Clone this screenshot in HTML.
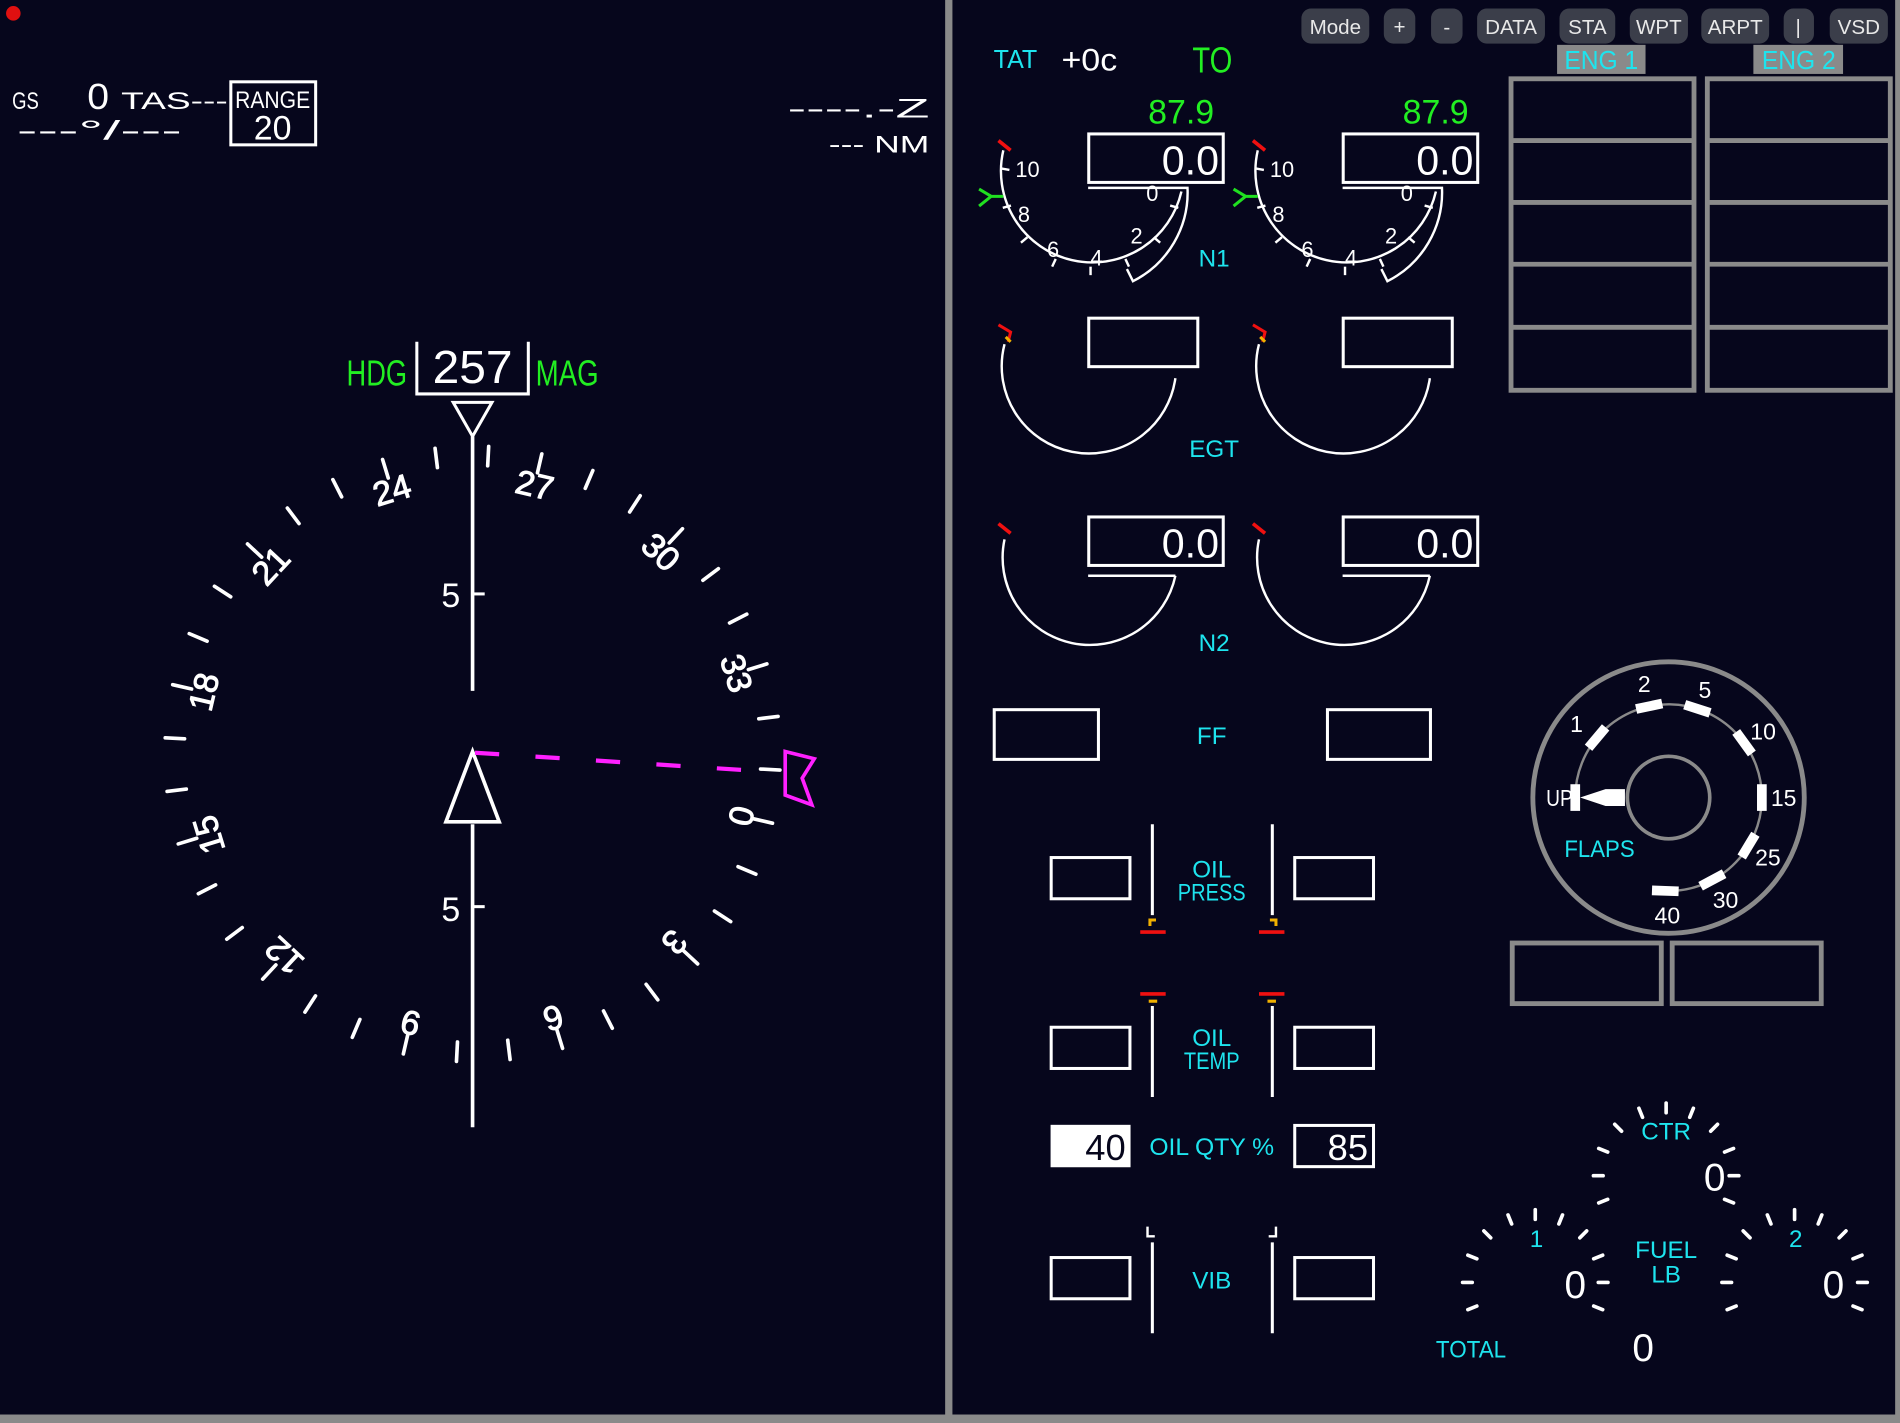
<!DOCTYPE html>
<html><head><meta charset="utf-8"><style>
html,body{margin:0;padding:0;background:#06061c;width:1900px;height:1423px;overflow:hidden}
svg{display:block}
text{font-family:"Liberation Sans",sans-serif}
.w{fill:#fff}.c{fill:#1ee4ee}.g{fill:#22ee22}
</style></head><body>
<svg width="1900" height="1423" viewBox="0 0 1568 1174" preserveAspectRatio="none">
<rect width="1568" height="1174" fill="#06061c"/>
<rect x="780" y="0" width="6" height="1168" fill="#8a8a8a"/>
<rect x="0" y="1167" width="1568" height="7" fill="#8a8a8a"/>
<rect x="1564" y="0" width="4" height="1174" fill="#8a8a8a"/>
<circle cx="11" cy="11" r="6" fill="#e01010"/>
<!-- top left -->
<text x="10" y="90" class="w" font-size="20" textLength="22" lengthAdjust="spacingAndGlyphs">GS</text>
<text x="72" y="90" class="w" font-size="30" textLength="18" lengthAdjust="spacingAndGlyphs">0</text>
<text x="100" y="90" class="w" font-size="20" textLength="88" lengthAdjust="spacingAndGlyphs">TAS---</text>
<text x="14" y="115" class="w" font-size="22" textLength="136" lengthAdjust="spacingAndGlyphs">---°/---</text>
<rect x="190.5" y="67.5" width="70" height="52" fill="none" stroke="#fff" stroke-width="2.5"/>
<text x="194" y="89" class="w" font-size="20" textLength="62" lengthAdjust="spacingAndGlyphs">RANGE</text>
<text x="225" y="115" class="w" font-size="28" text-anchor="middle">20</text>
<text x="650" y="97" class="w" font-size="22" textLength="117" lengthAdjust="spacingAndGlyphs">----.-Z</text>
<text x="684" y="126" class="w" font-size="20" textLength="83" lengthAdjust="spacingAndGlyphs">--- NM</text>
<!-- heading -->
<text x="286" y="318" class="g" font-size="30" textLength="50" lengthAdjust="spacingAndGlyphs">HDG</text>
<text x="442" y="318" class="g" font-size="30" textLength="52" lengthAdjust="spacingAndGlyphs">MAG</text>
<path d="M344 282 V325 H436 V282" fill="none" stroke="#fff" stroke-width="2.5"/>
<text x="357" y="316" class="w" font-size="38" textLength="66" lengthAdjust="spacingAndGlyphs">257</text>
<path d="M374 332 H406 L390 360 Z" fill="none" stroke="#fff" stroke-width="2.5"/>
<line x1="390" y1="360" x2="390" y2="570" stroke="#fff" stroke-width="3"/>
<line x1="390" y1="680" x2="390" y2="930" stroke="#fff" stroke-width="3"/>
<line x1="390" y1="490" x2="400" y2="490" stroke="#fff" stroke-width="2.5"/>
<line x1="390" y1="748" x2="400" y2="748" stroke="#fff" stroke-width="2.5"/>
<text x="372" y="501" class="w" font-size="28" text-anchor="middle">5</text>
<text x="372" y="760" class="w" font-size="28" text-anchor="middle">5</text>
<path d="M390 620 L368 678 H412 Z" fill="none" stroke="#fff" stroke-width="3"/>
<line x1="392" y1="621" x2="640" y2="637" stroke="#ff20ff" stroke-width="3.5" stroke-dasharray="20,30"/>
<path d="M648 620 L672 626 L662 642 L670 664 L648 656 Z" fill="none" stroke="#ff20ff" stroke-width="3"/>
<!-- compass rose -->
<g transform="translate(390,622) rotate(103)" stroke="#fff" stroke-width="3" stroke-linecap="round">
<g id="t"><line x1="0" y1="-254" x2="0" y2="-238"/></g>
<use href="#t" transform="rotate(10)"/><use href="#t" transform="rotate(20)"/><use href="#t" transform="rotate(30)"/><use href="#t" transform="rotate(40)"/><use href="#t" transform="rotate(50)"/><use href="#t" transform="rotate(60)"/><use href="#t" transform="rotate(70)"/><use href="#t" transform="rotate(80)"/><use href="#t" transform="rotate(90)"/><use href="#t" transform="rotate(100)"/><use href="#t" transform="rotate(110)"/><use href="#t" transform="rotate(120)"/><use href="#t" transform="rotate(130)"/><use href="#t" transform="rotate(140)"/><use href="#t" transform="rotate(150)"/><use href="#t" transform="rotate(160)"/><use href="#t" transform="rotate(170)"/><use href="#t" transform="rotate(180)"/><use href="#t" transform="rotate(190)"/><use href="#t" transform="rotate(200)"/><use href="#t" transform="rotate(210)"/><use href="#t" transform="rotate(220)"/><use href="#t" transform="rotate(230)"/><use href="#t" transform="rotate(240)"/><use href="#t" transform="rotate(250)"/><use href="#t" transform="rotate(260)"/><use href="#t" transform="rotate(270)"/><use href="#t" transform="rotate(280)"/><use href="#t" transform="rotate(290)"/><use href="#t" transform="rotate(300)"/><use href="#t" transform="rotate(310)"/><use href="#t" transform="rotate(320)"/><use href="#t" transform="rotate(330)"/><use href="#t" transform="rotate(340)"/><use href="#t" transform="rotate(350)"/>
<g stroke="#fff" stroke-width="0.8" fill="#fff" font-size="28" text-anchor="middle">
<text transform="rotate(0) translate(0,-218)">0</text>
<text transform="rotate(30) translate(0,-218)">3</text>
<text transform="rotate(60) translate(0,-218)">6</text>
<text transform="rotate(90) translate(0,-218)">9</text>
<text transform="rotate(120) translate(0,-218)">12</text>
<text transform="rotate(150) translate(0,-218)">15</text>
<text transform="rotate(180) translate(0,-218)">18</text>
<text transform="rotate(210) translate(0,-218)">21</text>
<text transform="rotate(240) translate(0,-218)">24</text>
<text transform="rotate(270) translate(0,-218)">27</text>
<text transform="rotate(300) translate(0,-218)">30</text>
<text transform="rotate(330) translate(0,-218)">33</text>
</g></g>
<!-- buttons -->
<g fill="#3b3e4a"><rect x="1074" y="7" width="56" height="29" rx="8"/><rect x="1142" y="7" width="26" height="29" rx="8"/><rect x="1181" y="7" width="26" height="29" rx="8"/><rect x="1219" y="7" width="56" height="29" rx="8"/><rect x="1287" y="7" width="46" height="29" rx="8"/><rect x="1345" y="7" width="48" height="29" rx="8"/><rect x="1404" y="7" width="56" height="29" rx="8"/><rect x="1472" y="7" width="25" height="29" rx="8"/><rect x="1510" y="7" width="48" height="29" rx="8"/></g>
<g fill="#e8e8e8" font-size="17" text-anchor="middle"><text x="1102" y="28">Mode</text><text x="1155" y="28">+</text><text x="1194" y="28">-</text><text x="1247" y="28">DATA</text><text x="1310" y="28">STA</text><text x="1369" y="28">WPT</text><text x="1432" y="28">ARPT</text><text x="1484" y="28">|</text><text x="1534" y="28">VSD</text></g>
<text x="820" y="56" class="c" font-size="21" textLength="36" lengthAdjust="spacingAndGlyphs">TAT</text>
<text x="876" y="58" class="w" font-size="26" textLength="46" lengthAdjust="spacingAndGlyphs">+0c</text>
<text x="984" y="60" class="g" font-size="30" textLength="33" lengthAdjust="spacingAndGlyphs">TO</text>
<rect x="1285" y="37" width="73" height="24" fill="#8a8a8a"/><rect x="1447" y="37" width="74" height="24" fill="#8a8a8a"/>
<text x="1291" y="57" class="c" font-size="21" textLength="61" lengthAdjust="spacingAndGlyphs">ENG 1</text>
<text x="1454" y="57" class="c" font-size="21" textLength="61" lengthAdjust="spacingAndGlyphs">ENG 2</text>
<g fill="none" stroke="#8a8a8a" stroke-width="4">
<rect x="1247" y="65" width="151" height="257"/><rect x="1409" y="65" width="151" height="257"/>
<path d="M1247 116H1398M1247 167H1398M1247 218H1398M1247 270H1398M1409 116H1560M1409 167H1560M1409 218H1560M1409 270H1560"/>
</g>
<!-- N1 gauges -->
<g id="n1">
<text x="1002" y="102" class="g" font-size="28" text-anchor="end">87.9</text>
<rect x="898.5" y="110.5" width="111" height="40" fill="none" stroke="#fff" stroke-width="2.5"/>
<text x="1006" y="144" class="w" font-size="34" text-anchor="end">0.0</text>
<path d="M828 124 A75 75 0 1 0 975 158" fill="none" stroke="#fff" stroke-width="2"/>
<path d="M898 155 H980 A82 82 0 0 1 935 232 L930 222" fill="none" stroke="#fff" stroke-width="2"/>
<g transform="translate(900,152)" stroke="#fff" stroke-width="2">
<line x1="-75" y1="0" x2="-68" y2="0" transform="rotate(10)"/><line x1="-75" y1="0" x2="-68" y2="0" transform="rotate(-15)"/><line x1="-75" y1="0" x2="-68" y2="0" transform="rotate(-40)"/><line x1="-75" y1="0" x2="-68" y2="0" transform="rotate(-65)"/><line x1="-75" y1="0" x2="-68" y2="0" transform="rotate(-90)"/><line x1="-75" y1="0" x2="-68" y2="0" transform="rotate(-115)"/><line x1="-75" y1="0" x2="-68" y2="0" transform="rotate(-140)"/><line x1="-75" y1="0" x2="-68" y2="0" transform="rotate(-165)"/>
</g>
<line x1="824" y1="116" x2="834" y2="124" stroke="#f01010" stroke-width="3"/>
<path d="M808 156 L818 162 L808 170 M818 162 H828" fill="none" stroke="#20e020" stroke-width="2.5"/>
<g class="w" font-size="18"><text x="838" y="146">10</text><text x="840" y="183">8</text><text x="864" y="212">6</text><text x="900" y="219">4</text><text x="933" y="201">2</text><text x="946" y="166">0</text></g>
</g>
<use href="#n1" transform="translate(210,0)"/>
<text x="1002" y="220" class="c" font-size="20" text-anchor="middle">N1</text>
<!-- EGT -->
<g id="egt">
<rect x="898.5" y="262.5" width="90" height="40" fill="none" stroke="#fff" stroke-width="2.5"/>
<path d="M829 284 A72 72 0 1 0 970 312" fill="none" stroke="#fff" stroke-width="2"/>
<path d="M824 268 L834 274 L832 282" fill="none" stroke="#f01010" stroke-width="2.5"/>
<line x1="830" y1="278" x2="834" y2="282" stroke="#f0b000" stroke-width="2.5"/>
</g>
<use href="#egt" transform="translate(210,0)"/>
<text x="1002" y="377" class="c" font-size="20" text-anchor="middle">EGT</text>
<!-- N2 -->
<g id="n2">
<rect x="898.5" y="426.5" width="111" height="40" fill="none" stroke="#fff" stroke-width="2.5"/>
<text x="1006" y="460" class="w" font-size="34" text-anchor="end">0.0</text>
<path d="M829 445 A72 72 0 1 0 970 475" fill="none" stroke="#fff" stroke-width="2"/>
<line x1="898" y1="475" x2="970" y2="475" stroke="#fff" stroke-width="2"/>
<line x1="824" y1="432" x2="834" y2="440" stroke="#f01010" stroke-width="3"/>
</g>
<use href="#n2" transform="translate(210,0)"/>
<text x="1002" y="537" class="c" font-size="20" text-anchor="middle">N2</text>
<g fill="none" stroke="#fff" stroke-width="2.5">
<rect x="820.5" y="585.5" width="86" height="41"/><rect x="1095.5" y="585.5" width="85" height="41"/>
<rect x="867.5" y="707.5" width="65" height="34"/><rect x="1068.5" y="707.5" width="65" height="34"/>
<rect x="867.5" y="847.5" width="65" height="34"/><rect x="1068.5" y="847.5" width="65" height="34"/>
<rect x="1068.5" y="928.5" width="65" height="34"/>
<rect x="867.5" y="1037.5" width="65" height="34"/><rect x="1068.5" y="1037.5" width="65" height="34"/>
<path d="M951 680V755M1050 680V755M951 830V905M1050 830V905M951 1025V1100M1050 1025V1100"/>
<path d="M947 1012V1020H953M1053 1012V1020H1047" stroke-width="2"/>
</g>
<text x="1000" y="614" class="c" font-size="20" text-anchor="middle">FF</text>
<text x="1000" y="724" class="c" font-size="20" text-anchor="middle">OIL</text>
<text x="1000" y="743" class="c" font-size="20" text-anchor="middle" textLength="56" lengthAdjust="spacingAndGlyphs">PRESS</text>
<text x="1000" y="863" class="c" font-size="20" text-anchor="middle">OIL</text>
<text x="1000" y="882" class="c" font-size="20" text-anchor="middle" textLength="46" lengthAdjust="spacingAndGlyphs">TEMP</text>
<text x="1000" y="953" class="c" font-size="20" text-anchor="middle" textLength="103" lengthAdjust="spacingAndGlyphs">OIL QTY %</text>
<text x="1000" y="1063" class="c" font-size="20" text-anchor="middle">VIB</text>
<g stroke-width="3" fill="none">
<path d="M941 769H962M1039 769H1060M941 820H962M1039 820H1060" stroke="#f01010"/>
<path d="M949 764V759H954M1053 764V759H1048M948 826H955M1046 826H1053" stroke="#f0b000" stroke-width="2.5"/>
</g>
<rect x="867" y="928" width="66" height="35" fill="#fff"/>
<text x="929" y="957" fill="#06061c" font-size="30" text-anchor="end">40</text>
<text x="1129" y="957" class="w" font-size="30" text-anchor="end">85</text>
<!-- flaps -->
<g transform="translate(1377,658)">
<circle r="112" fill="none" stroke="#8a8a8a" stroke-width="4"/>
<circle r="34" fill="none" stroke="#8a8a8a" stroke-width="3"/>
<path d="M-77 0 A77 77 0 1 1 -3 77" fill="none" stroke="#8a8a8a" stroke-width="2"/>
<g fill="#fff">
<rect x="-81" y="-11" width="8" height="22"/>
<rect x="73" y="-11" width="8" height="22" transform="rotate(220)"/>
<rect x="73" y="-11" width="8" height="22" transform="rotate(258)"/>
<rect x="73" y="-11" width="8" height="22" transform="rotate(288)"/>
<rect x="73" y="-11" width="8" height="22" transform="rotate(324)"/>
<rect x="73" y="-11" width="8" height="22"/>
<rect x="73" y="-11" width="8" height="22" transform="rotate(31)"/>
<rect x="73" y="-11" width="8" height="22" transform="rotate(62)"/>
<rect x="73" y="-11" width="8" height="22" transform="rotate(92)"/>
<path d="M-73 0 L-52 -7 H-36 V7 H-52 Z"/>
</g>
<g class="w" font-size="19" text-anchor="middle"><text x="-90" y="7" textLength="22" lengthAdjust="spacingAndGlyphs">UP</text><text x="-76" y="-54">1</text><text x="-20" y="-87">2</text><text x="30" y="-82">5</text><text x="78" y="-48">10</text><text x="95" y="7">15</text><text x="82" y="56">25</text><text x="47" y="91">30</text><text x="-1" y="104">40</text></g>
<text x="-57" y="49" class="c" font-size="20" text-anchor="middle" textLength="58" lengthAdjust="spacingAndGlyphs">FLAPS</text>
</g>
<g fill="none" stroke="#8a8a8a" stroke-width="4"><rect x="1248" y="778" width="123" height="50"/><rect x="1380" y="778" width="123" height="50"/></g>
<!-- fuel -->
<g id="fg" stroke="#fff" stroke-width="3" stroke-linecap="round">
<g transform="translate(1375,970)">
<line x1="0" y1="-60" x2="0" y2="-52" transform="rotate(-112)"/><line x1="0" y1="-60" x2="0" y2="-52" transform="rotate(-90)"/><line x1="0" y1="-60" x2="0" y2="-52" transform="rotate(-68)"/><line x1="0" y1="-60" x2="0" y2="-52" transform="rotate(-45)"/><line x1="0" y1="-60" x2="0" y2="-52" transform="rotate(-22)"/><line x1="0" y1="-60" x2="0" y2="-52"/><line x1="0" y1="-60" x2="0" y2="-52" transform="rotate(22)"/><line x1="0" y1="-60" x2="0" y2="-52" transform="rotate(45)"/><line x1="0" y1="-60" x2="0" y2="-52" transform="rotate(68)"/><line x1="0" y1="-60" x2="0" y2="-52" transform="rotate(90)"/><line x1="0" y1="-60" x2="0" y2="-52" transform="rotate(112)"/>
</g></g>
<use href="#fg" transform="translate(-108,88)"/>
<use href="#fg" transform="translate(106,88)"/>
<text x="1375" y="940" class="c" font-size="20" text-anchor="middle">CTR</text>
<text x="1268" y="1029" class="c" font-size="20" text-anchor="middle">1</text>
<text x="1482" y="1029" class="c" font-size="20" text-anchor="middle">2</text>
<text x="1375" y="1038" class="c" font-size="20" text-anchor="middle">FUEL</text>
<text x="1375" y="1058" class="c" font-size="20" text-anchor="middle">LB</text>
<text x="1214" y="1120" class="c" font-size="20" text-anchor="middle" textLength="58" lengthAdjust="spacingAndGlyphs">TOTAL</text>
<text x="1415" y="982" class="w" font-size="32" text-anchor="middle">0</text>
<text x="1300" y="1071" class="w" font-size="32" text-anchor="middle">0</text>
<text x="1513" y="1071" class="w" font-size="32" text-anchor="middle">0</text>
<text x="1356" y="1123" class="w" font-size="32" text-anchor="middle">0</text>
</svg>
</body></html>
